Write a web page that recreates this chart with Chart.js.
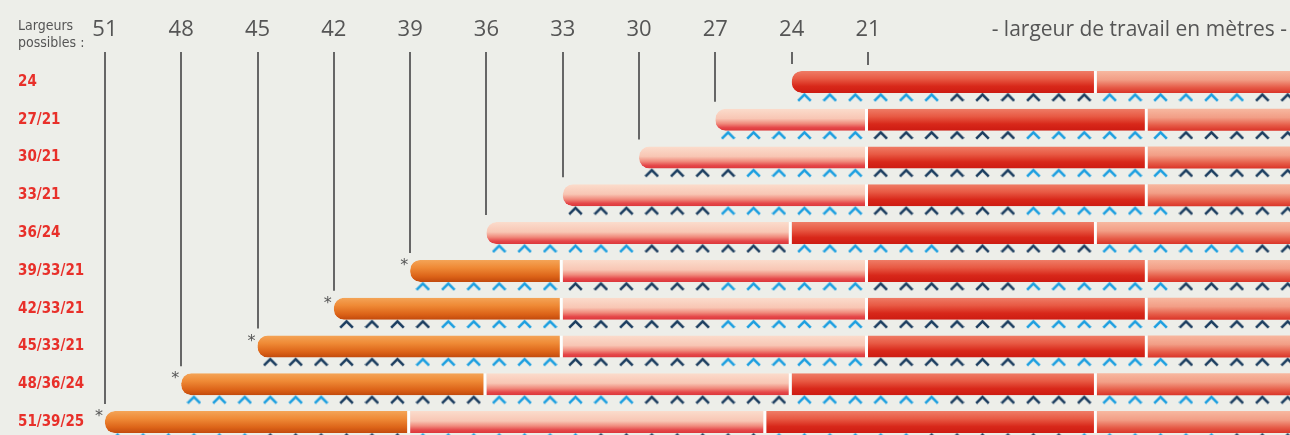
<!DOCTYPE html>
<html lang="fr">
<head>
<meta charset="utf-8">
<title>Largeurs possibles</title>
<script src="https://cdn.jsdelivr.net/npm/chart.js@4.4.1/dist/chart.umd.min.js"></script>
<style>
  html, body { margin: 0; padding: 0; background: #edeee9; overflow: hidden; }
  canvas { display: block; }
</style>
</head>
<body>
<canvas id="chart" width="1290" height="441" style="width:1290px;height:441px"></canvas>
<script>
// rows, top to bottom
const rowLabels = ['24', '27/21', '30/21', '33/21', '36/24', '39/33/21', '42/33/21', '45/33/21', '48/36/24', '51/39/25'];
const rowStarts = [24, 27, 30, 33, 36, 39, 42, 45, 48, 51];
const starred = [false, false, false, false, false, true, true, true, true, true];
const tickValues = [51, 48, 45, 42, 39, 36, 33, 30, 27, 24, 21];

// boom sections [from, to] in metres, null = no such section
const orangeSeg = [null, null, null, null, null, [39, 33], [42, 33], [45, 33], [48, 36], [51, 39]];
const pinkSeg = [null, [27, 21], [30, 21], [33, 21], [36, 24], [33, 21], [33, 21], [33, 21], [36, 24], [39, 25]];
const redSeg = [[24, 12], [21, 10], [21, 10], [21, 10], [24, 12], [21, 10], [21, 10], [21, 10], [24, 12], [25, 12]];
const salmonSeg = [[12, 0], [10, 0], [10, 0], [10, 0], [12, 0], [10, 0], [10, 0], [10, 0], [12, 0], [12, 0]];

// nozzle groups under each bar: b = light blue, d = dark blue
const nozzleRuns = [
  [['b', 24, 18], ['d', 18, 12], ['b', 12, 6], ['d', 6, 0]],
  [['b', 27, 21], ['d', 21, 15], ['b', 15, 9], ['d', 9, 3]],
  [['d', 30, 26], ['b', 26, 21], ['d', 21, 15], ['b', 15, 9], ['d', 9, 3]],
  [['d', 33, 27], ['b', 27, 21], ['d', 21, 15], ['b', 15, 9], ['d', 9, 3]],
  [['b', 36, 30], ['d', 30, 24], ['b', 24, 18], ['d', 18, 12], ['b', 12, 6], ['d', 6, 0]],
  [['b', 39, 33], ['d', 33, 27], ['b', 27, 21], ['d', 21, 15], ['b', 15, 9], ['d', 9, 3]],
  [['d', 42, 38], ['b', 38, 33], ['d', 33, 27], ['b', 27, 21], ['d', 21, 15], ['b', 15, 9], ['d', 9, 3]],
  [['d', 45, 39], ['b', 39, 33], ['d', 33, 27], ['b', 27, 21], ['d', 21, 15], ['b', 15, 9], ['d', 9, 3]],
  [['b', 48, 42], ['d', 42, 36], ['b', 36, 30], ['d', 30, 24], ['b', 24, 18], ['d', 18, 12], ['b', 12, 7], ['d', 7, 0]],
  [['b', 51, 45], ['d', 45, 39], ['b', 39, 32], ['d', 32, 25], ['b', 25, 19], ['d', 19, 13], ['b', 13, 7], ['d', 7, 0]]
];

const BAR_H = 22;

function nozzlePoints(kind) {
  const pts = [];
  nozzleRuns.forEach((runs, row) => {
    runs.forEach(([k, from, to]) => {
      if (k !== kind) return;
      for (let v = from - 0.5; v > to; v -= 1) pts.push({ x: v, y: row + 0.405 });
    });
  });
  return pts;
}

function segPoints(segs) {
  const pts = [];
  segs.forEach((s, row) => { if (s) pts.push({ x: s, y: row }); });
  return pts;
}

function chevron(color) {
  const c = document.createElement('canvas');
  c.width = 15; c.height = 10;
  const g = c.getContext('2d');
  g.strokeStyle = color;
  g.lineWidth = 2.6;
  g.beginPath();
  g.moveTo(1.2, 8.6);
  g.lineTo(7.5, 2.4);
  g.lineTo(13.8, 8.6);
  g.stroke();
  return c;
}

function vGrad(stops) {
  return ctx => {
    const chart = ctx.chart;
    const ys = chart.scales.y;
    if (!ys || !ctx.raw) return stops[1][1];
    const yc = ys.getPixelForValue(ctx.raw.y);
    if (!isFinite(yc)) return stops[1][1];
    const gr = chart.ctx.createLinearGradient(0, yc - BAR_H / 2, 0, yc + BAR_H / 2);
    stops.forEach(([o, c]) => gr.addColorStop(o, c));
    return gr;
  };
}

function capRadius(ctx) {
  const r = ctx.raw;
  if (r && r.x[0] === rowStarts[r.y]) return { topLeft: 10, bottomLeft: 10, topRight: 0, bottomRight: 0 };
  return 0;
}

function barSet(segs, stops, sep) {
  return {
    type: 'bar',
    data: segPoints(segs),
    grouped: false,
    barThickness: BAR_H,
    inflateAmount: 0,
    borderSkipped: false,
    borderColor: 'rgba(255,255,255,0.95)',
    borderWidth: { top: 0, bottom: 0, left: 0, right: sep },
    borderRadius: capRadius,
    backgroundColor: vGrad(stops)
  };
}

const decor = {
  id: 'decor',
  beforeDatasetsDraw(chart) {
    const g = chart.ctx;
    const xs = chart.scales.x, ys = chart.scales.y;
    g.save();
    g.strokeStyle = '#666';
    g.lineWidth = 2;
    tickValues.forEach(v => {
      const x = Math.round(xs.getPixelForValue(v));
      const row = rowStarts.indexOf(v);
      const yEnd = row >= 0 ? ys.getPixelForValue(row) - BAR_H / 2 - 7 : 65;
      g.beginPath();
      g.moveTo(x, 52);
      g.lineTo(x, yEnd);
      g.stroke();
    });
    g.restore();
  },
  afterDatasetsDraw(chart) {
    const g = chart.ctx;
    const xs = chart.scales.x, ys = chart.scales.y;
    g.save();
    g.fillStyle = '#555';
    g.font = "16px 'DejaVu Sans', sans-serif";
    g.textAlign = 'center';
    g.textBaseline = 'middle';
    starred.forEach((s, row) => {
      if (!s) return;
      g.fillText('*', xs.getPixelForValue(rowStarts[row]) - 6, ys.getPixelForValue(row) - BAR_H / 2 + 6);
    });
    // row labels
    g.fillStyle = '#e8302a';
    g.textAlign = 'left';
    g.font = "bold 15px 'Liberation Sans Narrow', 'DejaVu Sans Condensed', sans-serif";
    rowLabels.forEach((lab, row) => g.fillText(lab, 18, ys.getPixelForValue(row)));
    g.restore();
  },
  afterDraw(chart) {
    const g = chart.ctx;
    g.save();
    g.fillStyle = '#555';
    g.textBaseline = 'alphabetic';
    g.textAlign = 'left';
    g.font = "14px 'Liberation Sans Narrow', 'DejaVu Sans Condensed', sans-serif";
    g.fillText('Largeurs', 18, 30);
    g.fillText('possibles :', 18, 47);
    g.font = "21px 'Open Sans', sans-serif";
    g.textAlign = 'right';
    g.fillText('- largeur de travail en mètres -', 1287, 36);
    g.restore();
  }
};

new Chart(document.getElementById('chart'), {
  type: 'bar',
  data: {
    datasets: [
      barSet(salmonSeg, [[0, '#f7b8a0'], [0.4, '#f29e86'], [0.75, '#e65c48'], [1, '#da3428']], 0),
      barSet(redSeg, [[0, '#ef7c66'], [0.35, '#e85a44'], [0.7, '#d8281a'], [1, '#cd1b12']], 3),
      barSet(pinkSeg, [[0, '#fbdccc'], [0.45, '#f8c6b4'], [0.68, '#f08a7c'], [0.86, '#e5484a'], [1, '#dc363a']], 3),
      barSet(orangeSeg, [[0, '#f4a457'], [0.35, '#ef8a36'], [0.75, '#dc6318'], [1, '#c2490c']], 3),
      {
        type: 'scatter', data: nozzlePoints('b'), showLine: false,
        pointStyle: chevron('#1c9fe0'), pointRadius: 6
      },
      {
        type: 'scatter', data: nozzlePoints('d'), showLine: false,
        pointStyle: chevron('#1b3d5f'), pointRadius: 6
      }
    ]
  },
  options: {
    indexAxis: 'y',
    responsive: false,
    animation: false,
    events: [],
    layout: { autoPadding: false, padding: { left: 90, right: 0, top: 0, bottom: 0 } },
    plugins: { legend: { display: false }, tooltip: { enabled: false } },
    scales: {
      x: {
        type: 'linear', position: 'top', reverse: true, min: 4.41, max: 51.585,
        grid: { display: false, drawTicks: false }, border: { display: false },
        afterFit(s) { s.height = 63; },
        afterBuildTicks(s) { s.ticks = tickValues.map(v => ({ value: v })); },
        ticks: { padding: 20, color: '#555', autoSkip: false, maxRotation: 0, font: { family: "'Open Sans', sans-serif", size: 22 } }
      },
      y: { type: 'linear', display: false, offset: false, grid: { offset: false }, reverse: true, min: -0.5, max: 9.5 }
    }
  },
  plugins: [decor]
});
</script>
</body>
</html>
